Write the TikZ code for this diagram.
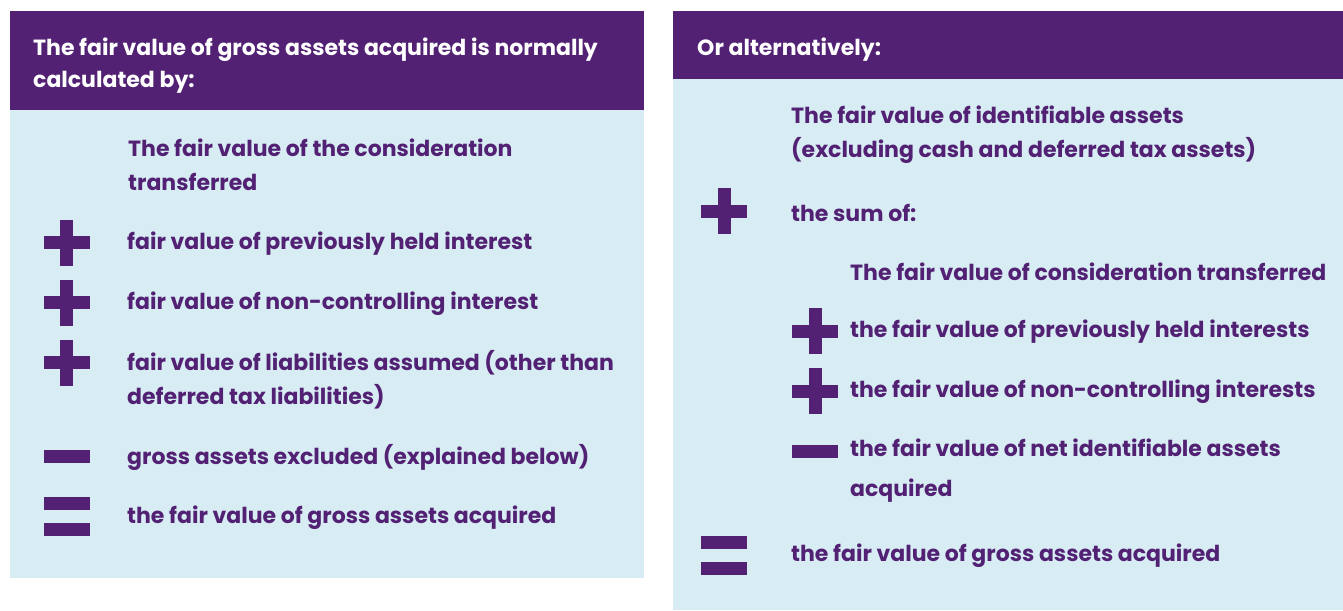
\documentclass[tikz,border=0pt]{standalone}
\usepackage{fontspec}
\setmainfont{Poppins}
\usetikzlibrary{positioning}
\definecolor{vpurple}{HTML}{522174}
\definecolor{vblue}{HTML}{D7ECF3}

\begin{document}
\begin{tikzpicture}[x=1pt,y=-1pt,
    hdtext/.style={anchor=west,inner sep=0pt,text=white,align=left,
      font=\bfseries\fontsize{22}{32}\selectfont},
    bodytext/.style={anchor=west,inner sep=0pt,text=vpurple,align=left,
      font=\bfseries\fontsize{22}{34}\selectfont}]
        \useasboundingbox (0,0) rectangle (1343,610);
        % panels
        \fill[vblue] (10,110) rectangle (644,578);
        \fill[vpurple] (10,11) rectangle (644,110);
        \fill[vblue] (673,79) rectangle (1343,610);
        \fill[vpurple] (673,11) rectangle (1343,79);
        % signs
        \foreach \cx/\cy in {66.5/242.5, 66.5/302.5, 66.5/362.5, 724/211, 815/331, 815/391}{
          \fill[vpurple] (\cx-23,\cy-6.5) rectangle (\cx+23,\cy+6.5);
          \fill[vpurple] (\cx-6.5,\cy-23) rectangle (\cx+6.5,\cy+23);
        }
        \foreach \cx/\cy in {66.5/456.5, 815/451}
          \fill[vpurple] (\cx-23,\cy-6.5) rectangle (\cx+23,\cy+6.5);
        \foreach \cx/\cy in {66.5/516.5, 724/555.5}{
          \fill[vpurple] (\cx-23,\cy-19.5) rectangle (\cx+23,\cy-6.5);
          \fill[vpurple] (\cx-23,\cy+6.5) rectangle (\cx+23,\cy+19.5);
        }
        % left texts
        \node[hdtext] (lhead) at (33,66) {The fair value of gross assets acquired is normally\\calculated by:};
        \node[bodytext] (lcons) at (128,164.5) {The fair value of the consideration\\transferred};
        \node[bodytext] (lprev) at (127,244) {fair value of previously held interest};
        \node[bodytext] (lnci) at (127,304) {fair value of non-controlling interest};
        \node[bodytext] (lliab) at (127,379.5) {fair value of liabilities assumed (other than\\deferred tax liabilities)};
        \node[bodytext] (lexcl) at (127,457.5) {gross assets excluded (explained below)};
        \node[bodytext] (lgross) at (127,517.5) {the fair value of gross assets acquired};
        % right texts
        \node[hdtext] (rhead) at (697,50) {Or alternatively:};
        \node[bodytext] (rident) at (791,135) {The fair value of identifiable assets\\(excluding cash and deferred tax assets)};
        \node[bodytext] (rsum) at (791,212.5) {the sum of:};
        \node[bodytext] (rcons) at (850,271.5) {The fair value of consideration transferred};
        \node[bodytext] (rprev) at (850,331.5) {the fair value of previously held interests};
        \node[bodytext] (rnci) at (850,391.5) {the fair value of non-controlling interests};
        \node[bodytext] (rnet) at (850,471) {the fair value of net identifiable assets\\[6pt]acquired};
        \node[bodytext] (rgross) at (791,556) {the fair value of gross assets acquired};
    \end{tikzpicture}
\end{document}
